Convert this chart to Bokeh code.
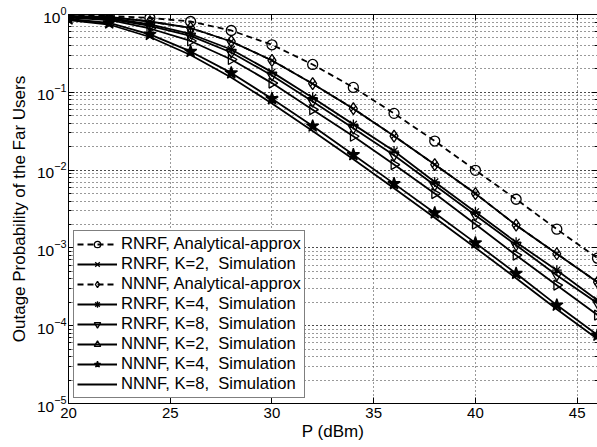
import math
from bokeh.plotting import figure
from bokeh.models import FixedTicker, LinearAxis, LogAxis, Legend, ColumnDataSource
from bokeh.embed import file_html
from bokeh.resources import INLINE

P = [20, 22, 24, 26, 28, 30, 32, 34, 36, 38, 40, 42, 44, 46]
rnrf_ana = [1.0, 0.956, 0.902, 0.813, 0.623, 0.408, 0.228, 0.1156, 0.0536, 0.02364, 0.00994, 0.00422, 0.00174, 0.000738]
rnrf_k2 = [0.956, 0.929, 0.813, 0.671, 0.450, 0.2567, 0.1289, 0.0616, 0.0274, 0.01177, 0.00499, 0.00196, 0.000841, 0.000363]
nnnf_ana = [0.956, 0.929, 0.813, 0.671, 0.450, 0.2567, 0.1289, 0.0616, 0.0274, 0.01177, 0.00499, 0.00196, 0.000841, 0.000363]
rnrf_k4 = [0.943, 0.902, 0.744, 0.562, 0.355, 0.1817, 0.0852, 0.0387, 0.01758, 0.00703, 0.0029, 0.00118, 0.000517, 0.000213]
rnrf_k8 = [0.929, 0.876, 0.712, 0.530, 0.325, 0.1648, 0.0764, 0.0344, 0.01549, 0.00638, 0.00263, 0.001083, 0.000446, 0.000195]
nnnf_k2 = [0.915, 0.850, 0.661, 0.457, 0.2644, 0.1313, 0.0598, 0.0272, 0.01177, 0.00499, 0.00201, 0.000806, 0.000332, 0.000137]
nnnf_k4 = [0.876, 0.778, 0.554, 0.335, 0.1775, 0.0827, 0.0368, 0.0158, 0.0067, 0.00281, 0.00116, 0.000469, 0.000184, 0.0000757]
nnnf_k8 = [0.850, 0.744, 0.514, 0.302, 0.1553, 0.0720, 0.0319, 0.01376, 0.00584, 0.00244, 0.001006, 0.000408, 0.000163, 0.0000673]

x_ticks = [20, 25, 30, 35, 40, 45]
FONT = "Liberation Sans"

p = figure(width=597, height=447, x_range=(20, 46), y_range=(1e-5, 1),
           y_axis_type="log", output_backend="svg", toolbar_location=None,
           min_border_left=68, min_border_top=14, min_border_right=0, min_border_bottom=44)
p.outline_line_color = None

for ax in (p.xaxis[0], p.yaxis[0]):
    ax.axis_line_color = "black"
    ax.axis_line_width = 1
    ax.major_tick_in = 6
    ax.major_tick_out = 0
    ax.minor_tick_in = 3
    ax.minor_tick_out = 0
    ax.major_label_text_font = FONT
    ax.major_label_text_color = "black"
    ax.axis_label_text_font = FONT
    ax.axis_label_text_font_style = "normal"
    ax.axis_label_text_color = "black"

p.xaxis.ticker = FixedTicker(ticks=x_ticks)
p.xaxis.minor_tick_line_color = None
p.xaxis.axis_label = "P (dBm)"
p.xaxis.major_label_text_font_size = "15px"
p.xaxis.axis_label_text_font_size = "17px"
p.xaxis.axis_label_standoff = 1
p.xaxis.major_label_standoff = 4
p.yaxis.axis_label = "Outage Probability of the Far Users"
p.yaxis.major_label_text_font_size = "15.5px"
p.yaxis.axis_label_text_font_size = "17px"
p.yaxis.axis_label_standoff = 5
p.yaxis.major_label_standoff = 2

top = LinearAxis(ticker=FixedTicker(ticks=x_ticks), major_label_text_font_size="1px",
                 major_label_text_color=None, major_label_standoff=0,
                 major_tick_in=6, major_tick_out=0, minor_tick_line_color=None,
                 axis_line_color="black")
p.add_layout(top, "above")

right = LogAxis(major_label_text_font_size="1px", major_label_text_color=None,
                major_label_standoff=0, major_tick_in=6, major_tick_out=0,
                minor_tick_in=3, minor_tick_out=0, axis_line_color=None)
p.add_layout(right, "right")

p.xgrid.ticker = FixedTicker(ticks=x_ticks)
p.xgrid.grid_line_color = "#333333"
p.xgrid.grid_line_dash = "1 3"
p.ygrid.grid_line_color = "#333333"
p.ygrid.grid_line_dash = "1 3"
p.ygrid.minor_grid_line_color = "#333333"
p.ygrid.minor_grid_line_dash = "1 3"

LW = 1.8
series = [
    ("RNRF, Analytical-approx", rnrf_ana, "6 4", "circle", 10, None, 0.0),
    ("RNRF, K=2,  Simulation", rnrf_k2, "solid", "x", 8, None, 0.0),
    ("NNNF, Analytical-approx", nnnf_ana, "6 4", "diamond", 12, None, 0.0),
    ("RNRF, K=4,  Simulation", rnrf_k4, "solid", "asterisk", 10, None, 0.0),
    ("RNRF, K=8,  Simulation", rnrf_k8, "solid", "inverted_triangle", 10, None, 0.0),
    ("NNNF, K=2,  Simulation", nnnf_k2, "solid", "triangle", 10, None, -math.pi / 2),
    ("NNNF, K=4,  Simulation", nnnf_k4, "solid", "star", 13, "black", 0.0),
    ("NNNF, K=8,  Simulation", nnnf_k8, "solid", None, 0, None, 0.0),
]

items = []
for label, ys, dash, marker, size, fill, ang in series:
    src = ColumnDataSource(dict(x=P, y=ys, ang=[ang] * len(P)))
    rs = [p.line("x", "y", source=src, line_color="black", line_width=LW, line_dash=dash)]
    if marker:
        rs.append(p.scatter("x", "y", source=src, marker=marker, size=size, angle="ang",
                            line_color="black", line_width=1.3,
                            fill_color=fill if fill else None))
    items.append((label, rs))

legend = Legend(items=items, location="bottom_left")
legend.margin = 5
legend.padding = 3
legend.spacing = 0
legend.label_height = 16
legend.glyph_height = 16
legend.glyph_width = 40
legend.label_standoff = 4
legend.label_text_font = FONT
legend.label_text_font_size = "16.6px"
legend.label_text_color = "black"
legend.border_line_color = "black"
legend.border_line_width = 1
legend.background_fill_color = "white"
legend.background_fill_alpha = 1
p.add_layout(legend, "center")

open("out.html", "w").write(file_html(p, INLINE))
